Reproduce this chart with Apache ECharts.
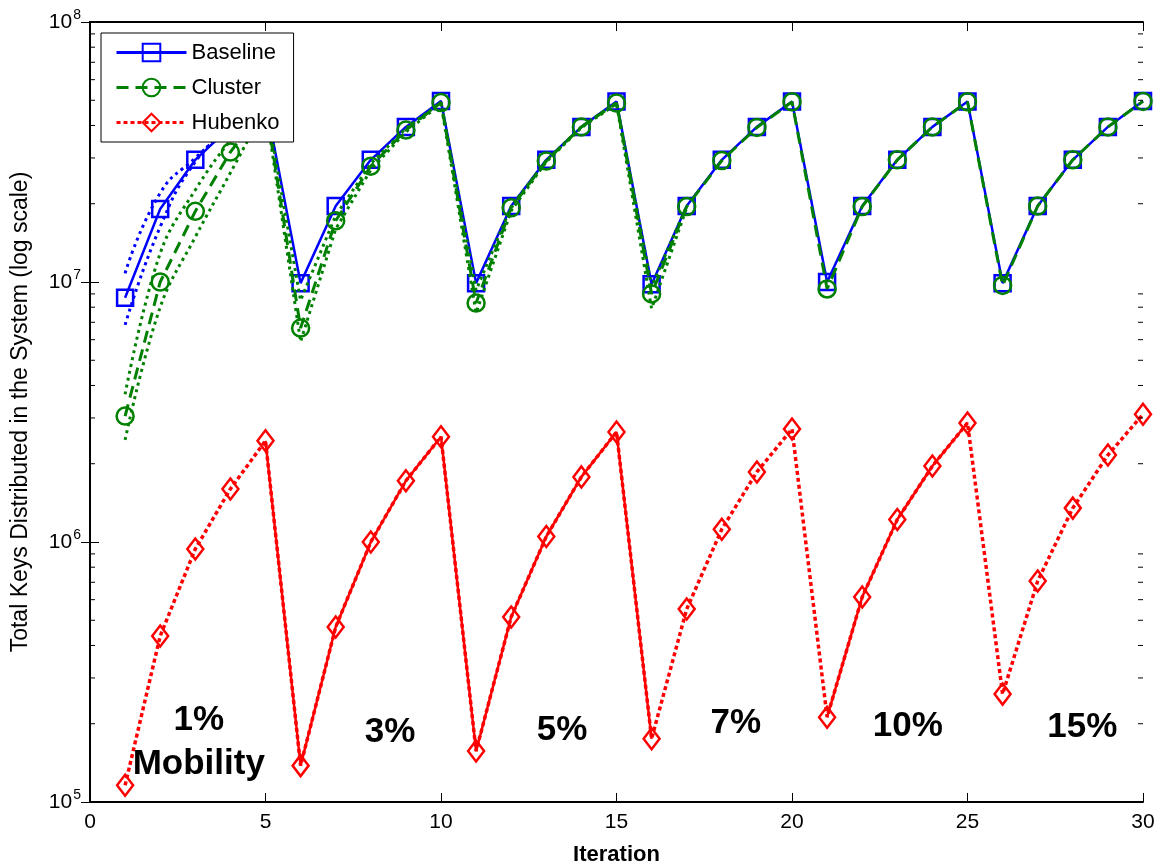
<!DOCTYPE html>
<html><head><meta charset="utf-8">
<script src="https://cdn.jsdelivr.net/npm/echarts@6/dist/echarts.min.js"></script>
<style>html,body{margin:0;padding:0;background:#fff}#c{width:1161px;height:866px}</style>
</head><body><div id="c"></div>
<script>
const iterations = [1,2,3,4,5,6,7,8,9,10,11,12,13,14,15,16,17,18,19,20,21,22,23,24,25,26,27,28,29,30];
const baseline = [8.7e6,1.91e7,2.95e7,3.95e7,4.95e7,9.9e6,1.96e7,2.95e7,3.95e7,4.97e7,9.9e6,1.96e7,2.95e7,3.95e7,4.95e7,9.8e6,1.96e7,2.95e7,3.95e7,4.95e7,1.0e7,1.96e7,2.95e7,3.95e7,4.95e7,9.9e6,1.96e7,2.95e7,3.95e7,4.97e7];
const cluster = [3.05e6,1.0e7,1.87e7,3.16e7,4.8e7,6.65e6,1.72e7,2.79e7,3.84e7,4.9e7,8.3e6,1.93e7,2.92e7,3.95e7,4.88e7,9.0e6,1.95e7,2.93e7,3.93e7,4.93e7,9.4e6,1.95e7,2.95e7,3.95e7,4.93e7,9.7e6,1.96e7,2.95e7,3.95e7,4.95e7];
const hubenko = [1.16e5,4.35e5,9.4e5,1.6e6,2.45e6,1.38e5,4.71e5,1.0e6,1.72e6,2.54e6,1.57e5,5.15e5,1.05e6,1.78e6,2.65e6,1.75e5,5.52e5,1.12e6,1.86e6,2.72e6,2.12e5,6.14e5,1.22e6,1.96e6,2.87e6,2.6e5,7.08e5,1.35e6,2.16e6,3.1e6];
// dotted spread curves (upper / lower) around Baseline and Cluster
const baselineUpper = [1.08e7,2.2e7,3.0e7,3.95e7];
const baselineLower = [6.84e6,1.63e7,2.9e7,3.95e7];
const clusterUpper = [3.7e6,1.29e7,2.26e7,3.5e7,4.9e7,8.5e6,1.8e7,2.85e7,3.9e7,4.9e7,9.3e6,1.95e7,2.93e7,3.95e7,4.9e7,9.6e6,1.96e7];
const clusterLower = [2.47e6,8.0e6,1.49e7,2.63e7,4.7e7,5.9e6,1.6e7,2.7e7,3.78e7,4.85e7,7.6e6,1.88e7,2.9e7,3.92e7,4.85e7,7.9e6,1.93e7];
// iterations where the overlapping Hubenko runs look like a continuous line
const hubenkoOverlapA = [5,16];
const hubenkoOverlapB = [21,25];
const annotationText = ['1%','Mobility','3%','5%','7%','10%','15%'];
const annotationX = [3.1,3.1,8.55,13.45,18.4,23.3,28.27];
const annotationY = [2.07e5,1.40e5,1.86e5,1.88e5,2.0e5,1.95e5,1.94e5];

const BLUE='#0000ff', GREEN='#008000', RED='#ff0000';
const pair = (arr, from, to) => iterations.map((x,i)=> (i>=from && i<=to && arr[i]!=null) ? [x, arr[i]] : [x, null]);
const full = arr => iterations.map((x,i)=>[x, arr[i]]);
const overlap = iterations.map((x,i)=> ((x>=hubenkoOverlapA[0]&&x<=hubenkoOverlapA[1])||(x>=hubenkoOverlapB[0]&&x<=hubenkoOverlapB[1])) ? [x, hubenko[i]] : [x, null]);

const chart = echarts.init(document.getElementById('c'), null, {renderer:'canvas'});
const FONT = "'Liberation Sans', Arial, Helvetica, sans-serif";
const option = {
  animation:false,
  backgroundColor:'#fff',
  textStyle:{fontFamily:FONT},
  grid:{left:90,right:18,top:22,bottom:64, containLabel:false, outerBoundsMode:'none'},
  legend:{
    data:['Baseline','Cluster','Hubenko'],
    orient:'vertical', left:101, top:33, z:20,
    backgroundColor:'#fff', borderColor:'#000', borderWidth:1,
    padding:[7,14,7,14], itemWidth:70, itemHeight:22, itemGap:10, itemTextGap:9,
    lineStyle:{width:3},
    textStyle:{fontSize:22, lineHeight:25, color:'#000', fontFamily:FONT},
    selectedMode:false
  },
  xAxis:[{
    type:'value', min:0, max:30, interval:5, position:'bottom',
    name:'Iteration', nameLocation:'middle', nameGap:42,
    nameTextStyle:{fontSize:22, fontWeight:'bold', color:'#000', fontFamily:FONT},
    axisLine:{lineStyle:{color:'#000', width:2}},
    axisTick:{inside:true, length:9, lineStyle:{color:'#000'}},
    axisLabel:{fontSize:21, color:'#000', margin:10, fontFamily:FONT},
    splitLine:{show:false}
  },{
    type:'value', min:0, max:30, interval:5, position:'top',
    axisLine:{lineStyle:{color:'#000', width:2}},
    axisTick:{inside:true, length:9, lineStyle:{color:'#000'}},
    axisLabel:{show:false}, splitLine:{show:false}
  }],
  yAxis:[{
    type:'log', logBase:10, min:1e5, max:1e8, position:'left',
    name:'Total Keys Distributed in the System (log scale)', nameLocation:'middle', nameGap:58,
    nameTextStyle:{fontSize:23, color:'#000', fontFamily:FONT},
    axisLine:{lineStyle:{color:'#000', width:2}},
    axisTick:{inside:true, length:9, lineStyle:{color:'#000'}},
    axisLabel:{
      margin:9, color:'#000',
      formatter: v => '{b|10}{s|' + Math.round(Math.log10(v)) + '}',
      rich:{ b:{fontSize:21, color:'#000', fontFamily:FONT}, s:{fontSize:14, color:'#000', padding:[0,0,13,1], fontFamily:FONT} }
    },
    splitLine:{show:false}
  },{
    type:'log', logBase:10, min:1e5, max:1e8, position:'right',
    axisLine:{lineStyle:{color:'#000', width:2}},
    axisTick:{inside:true, length:9, lineStyle:{color:'#000'}},
    axisLabel:{show:false}, splitLine:{show:false}
  }],
  series:[
    {type:'line', name:'bU', data:pair(baselineUpper,0,3), smooth:0.5, showSymbol:false, silent:true,
      lineStyle:{color:BLUE, width:3, type:[3,4]}, z:2},
    {type:'line', name:'bL', data:pair(baselineLower,0,3), smooth:0.5, showSymbol:false, silent:true,
      lineStyle:{color:BLUE, width:3, type:[3,4]}, z:2},
    {type:'line', name:'Baseline', data:full(baseline), symbol:'rect', symbolSize:16,
      lineStyle:{color:BLUE, width:2.5, type:'solid'},
      itemStyle:{color:'rgba(255,255,255,0)', borderColor:BLUE, borderWidth:2.5}, z:3},
    {type:'line', name:'cUa', data:pair(clusterUpper,0,4), smooth:0.4, showSymbol:false, silent:true,
      lineStyle:{color:GREEN, width:3, type:[3,4]}, z:4},
    {type:'line', name:'cLa', data:pair(clusterLower,0,4), smooth:0.4, showSymbol:false, silent:true,
      lineStyle:{color:GREEN, width:3, type:[3,4]}, z:4},
    {type:'line', name:'cUb', data:pair(clusterUpper,4,16), showSymbol:false, silent:true,
      lineStyle:{color:GREEN, width:3, type:[3,4]}, z:4},
    {type:'line', name:'cLb', data:pair(clusterLower,4,16), showSymbol:false, silent:true,
      lineStyle:{color:GREEN, width:3, type:[3,4]}, z:4},
    {type:'line', name:'Cluster', data:full(cluster), symbol:'circle', symbolSize:17,
      lineStyle:{color:GREEN, width:3, type:[12,7]},
      itemStyle:{color:'rgba(255,255,255,0)', borderColor:GREEN, borderWidth:2.5}, z:5},
    {type:'line', name:'hOverlap', data:overlap, showSymbol:false, silent:true,
      lineStyle:{color:RED, width:2.5, type:'solid'}, z:6},
    {type:'line', name:'Hubenko', data:full(hubenko), symbol:'diamond', symbolSize:[16,21],
      lineStyle:{color:RED, width:3.5, type:[4,3]},
      itemStyle:{color:'rgba(255,255,255,0)', borderColor:RED, borderWidth:2.5}, z:6}
  ]
};
chart.setOption(option);

// minor log ticks (2..9 of each decade) and annotations, positioned through the axis scales
const xl = chart.convertToPixel({xAxisIndex:0}, 0);
const xr = chart.convertToPixel({xAxisIndex:0}, 30);
const g = [];
[5,6,7].forEach(d=>{
  for(let k=2;k<=9;k++){
    const y = chart.convertToPixel({yAxisIndex:0}, k*Math.pow(10,d));
    g.push({type:'line', shape:{x1:xl, y1:y, x2:xl+5, y2:y}, style:{stroke:'#000', lineWidth:1}, z:10, silent:true});
    g.push({type:'line', shape:{x1:xr-5, y1:y, x2:xr, y2:y}, style:{stroke:'#000', lineWidth:1}, z:10, silent:true});
  }
});
annotationText.forEach((t,i)=>{
  const p = chart.convertToPixel({xAxisIndex:0, yAxisIndex:0}, [annotationX[i], annotationY[i]]);
  g.push({type:'text', x:p[0], y:p[1], z:15, silent:true,
    style:{text:t, fill:'#000', font:"bold 35px 'Liberation Sans', Arial, sans-serif", textAlign:'center', textVerticalAlign:'middle'}});
});
chart.setOption({graphic:g});
</script></body></html>
